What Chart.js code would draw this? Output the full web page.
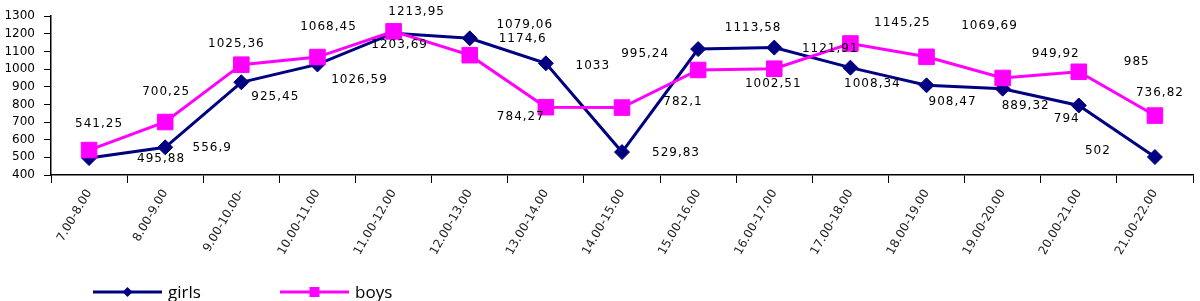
<!DOCTYPE html>
<html>
<head>
<meta charset="utf-8">
<script src="https://cdn.jsdelivr.net/npm/chart.js@4.4.1/dist/chart.umd.min.js"></script>
<style>
html, body { margin: 0; padding: 0; background: #fff; overflow: hidden; }
#wrap { width: 1205px; height: 301px; }
</style>
</head>
<body>
<div id="wrap"><canvas id="timeChart" width="1205" height="301"></canvas></div>
<script>
// categories (hour slots)
const hours = ['7.00-8.00', '8.00-9.00', '9.00-10.00-', '10.00-11.00', '11.00-12.00',
    '12.00-13.00', '13.00-14.00', '14.00-15.00', '15.00-16.00', '16.00-17.00',
    '17.00-18.00', '18.00-19.00', '19.00-20.00', '20.00-21.00', '21.00-22.00'];

const girls = [495.88, 556.9, 925.45, 1026.59, 1203.69, 1174.6, 1033, 529.83,
    1113.58, 1121.91, 1008.34, 908.47, 889.32, 794, 502];
const boys = [541.25, 700.25, 1025.36, 1068.45, 1213.95, 1079.06, 784.27, 782.1,
    995.24, 1002.51, 1145.25, 1069.69, 949.92, 985, 736.82];

const yMin = 400;
const yMax = 1300;
const yStep = 100;

// where each value label sits relative to its point (px), as in the original
const girlsLabelShift = [[72, 1], [47, 1], [34, 15], [42, 15], [6, 12], [53, 1], [47, 3], [54, 1],
    [55, -21], [56, 1], [22, 16], [26, 17], [23, 17], [-12, 13], [-57, -6]];
const boysLabelShift = [[10, -26], [1, -30], [-5, -21], [11, -30], [23, -20], [55, -30], [-25, 10], [61, -6],
    [-53, -16], [-1, 15], [52, -21], [63, -31], [53, -24], [58, -10], [5, -23]];

const NAVY = '#000080';
const MAGENTA = '#ff00ff';

// value labels with decimal comma
const pointLabels = {
    id: 'pointLabels',
    afterDatasetsDraw(chart) {
        const ctx = chart.ctx;
        ctx.save();
        ctx.font = '12px "DejaVu Sans"';
        ctx.letterSpacing = '1px';
        ctx.fillStyle = '#000';
        ctx.textAlign = 'center';
        ctx.textBaseline = 'middle';
        chart.data.datasets.forEach((ds, di) => {
            const meta = chart.getDatasetMeta(di);
            meta.data.forEach((pt, i) => {
                const s = ds.labelShift[i];
                ctx.fillText(String(ds.data[i]).replace('.', ','), pt.x + s[0], pt.y + s[1]);
            });
        });
        ctx.restore();
    }
};

// legend with line + marker, excel style
const lineLegend = {
    id: 'lineLegend',
    afterDraw(chart) {
        const ctx = chart.ctx;
        const y = 292;
        const items = [
            { ds: chart.data.datasets[0], x: 93 },
            { ds: chart.data.datasets[1], x: 280 }
        ];
        ctx.save();
        items.forEach(it => {
            ctx.strokeStyle = it.ds.borderColor;
            ctx.lineWidth = 3;
            ctx.beginPath();
            ctx.moveTo(it.x, y);
            ctx.lineTo(it.x + 69, y);
            ctx.stroke();
            ctx.fillStyle = it.ds.borderColor;
            const cx = it.x + 34.5;
            ctx.beginPath();
            if (it.ds.pointStyle === 'rectRot') {
                ctx.moveTo(cx, y - 5);
                ctx.lineTo(cx + 5, y);
                ctx.lineTo(cx, y + 5);
                ctx.lineTo(cx - 5, y);
                ctx.closePath();
            } else {
                ctx.rect(cx - 5, y - 5, 10, 10);
            }
            ctx.fill();
            ctx.fillStyle = '#000';
            ctx.font = '17px "Open Sans"';
            ctx.textBaseline = 'alphabetic';
            ctx.fillText(it.ds.label, it.x + 75, y + 6);
        });
        ctx.restore();
    }
};

const ctx = document.getElementById('timeChart').getContext('2d');

const timeChart = new Chart(ctx, {
    type: 'line',
    data: {
        labels: hours,
        datasets: [{
            label: 'girls',
            data: girls,
            labelShift: girlsLabelShift,
            borderColor: NAVY,
            backgroundColor: NAVY,
            borderWidth: 3,
            pointStyle: 'rectRot',
            pointRadius: 7.5,
            pointBorderWidth: 1,
            pointBorderColor: NAVY,
            pointBackgroundColor: NAVY,
            tension: 0,
            order: 1
        }, {
            label: 'boys',
            data: boys,
            labelShift: boysLabelShift,
            borderColor: MAGENTA,
            backgroundColor: MAGENTA,
            borderWidth: 3,
            pointStyle: 'rect',
            pointRadius: 11,
            pointBorderWidth: 1,
            pointBorderColor: MAGENTA,
            pointBackgroundColor: MAGENTA,
            tension: 0,
            order: 0
        }]
    },
    options: {
        responsive: false,
        animation: false,
        layout: { padding: { top: 9, right: 0, bottom: 0, left: 0 } },
        plugins: {
            legend: { display: false },
            tooltip: { enabled: false }
        },
        scales: {
            x: {
                offset: true,
                afterFit: (scale) => { scale.height = 126; },
                grid: {
                    offset: true,
                    drawOnChartArea: false,
                    tickLength: 8,
                    color: '#000'
                },
                border: { color: '#000', width: 1.5 },
                ticks: {
                    minRotation: 60,
                    maxRotation: 60,
                    autoSkip: false,
                    padding: 4,
                    color: '#222',
                    font: { family: 'DejaVu Sans', size: 12 }
                }
            },
            y: {
                min: yMin,
                max: yMax,
                afterFit: (scale) => { scale.width = 51; },
                grid: {
                    drawOnChartArea: false,
                    tickLength: 7,
                    color: '#000'
                },
                border: { color: '#000', width: 1.5 },
                ticks: {
                    stepSize: yStep,
                    padding: 9,
                    color: '#000',
                    font: { family: 'DejaVu Sans', size: 12 },
                    callback: (v) => String(v)
                }
            }
        }
    },
    plugins: [pointLabels, lineLegend]
});
</script>
</body>
</html>
